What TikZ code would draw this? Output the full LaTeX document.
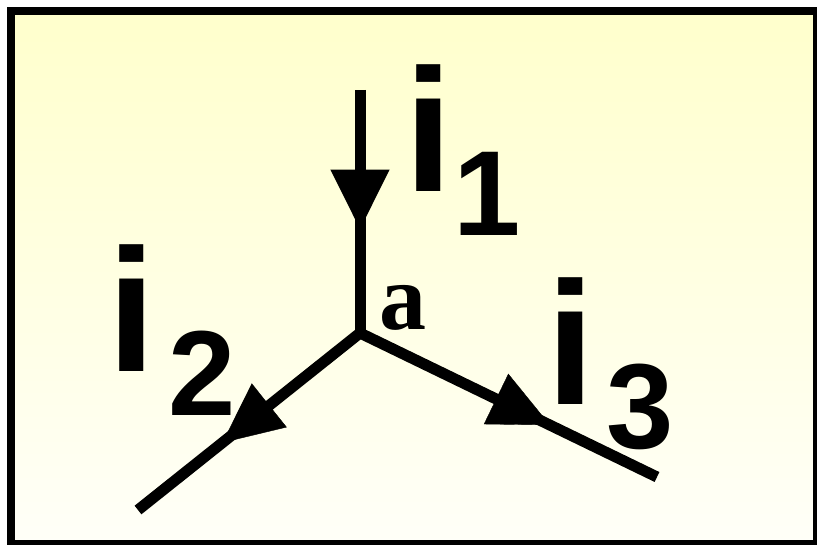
\documentclass[tikz,border=0pt]{standalone}
\usepackage{fontspec}
\setmainfont{Liberation Sans}
\newfontfamily\serifbold{Liberation Serif}
\usetikzlibrary{arrows.meta,decorations.markings}
\definecolor{bgtop}{RGB}{255,255,204}
\definecolor{bgbot}{RGB}{255,255,248}
\begin{document}
\begin{tikzpicture}[x=1pt,y=-1pt,
  wire/.style={line width=11pt, line cap=butt, line join=miter},
  headat/.style={postaction={decorate}, decoration={markings,
     mark=at position #1 with {\arrow{Triangle[length=60pt,width=56pt]}}}},
  curlbl/.style={inner sep=0pt, anchor=base west,
     font=\fontsize{175}{175}\selectfont\bfseries},
  nodelbl/.style={inner sep=0pt, anchor=base west,
     font=\fontsize{94}{94}\selectfont\serifbold\bfseries}]
\newcommand{\subdig}[2]{\kern#1pt\raisebox{-44pt}{\fontsize{121}{121}\selectfont\bfseries #2}}
\useasboundingbox (0,0) rectangle (817,545);
\begin{scope}
  \clip (0,0) rectangle (817,545);
  \shade[top color=bgtop, bottom color=bgbot] (11,11) rectangle (817,544);
  \draw[line width=8pt] (11,11) rectangle (817,544);
\end{scope}
\coordinate (J) at (360,333);
\coordinate (T) at (360,90);
\coordinate (E2) at (138,510);
\coordinate (E3) at (657,477);
\draw[wire] (E2) -- (J) -- (E3);
\draw[wire, headat=0.575] (T) -- (J);
\path[headat=0.62] (J) -- (E2);
\path[headat=0.64] (J) -- (E3);
\node[curlbl] (L1) at (404,192) {i\subdig{1}{1}};
\node[curlbl] (L2) at (107,372) {i\subdig{13}{2}};
\node[curlbl] (L3) at (546,404) {i\subdig{12}{3}};
\node[nodelbl] (A) at (379,330) {a};
\end{tikzpicture}
\end{document}
